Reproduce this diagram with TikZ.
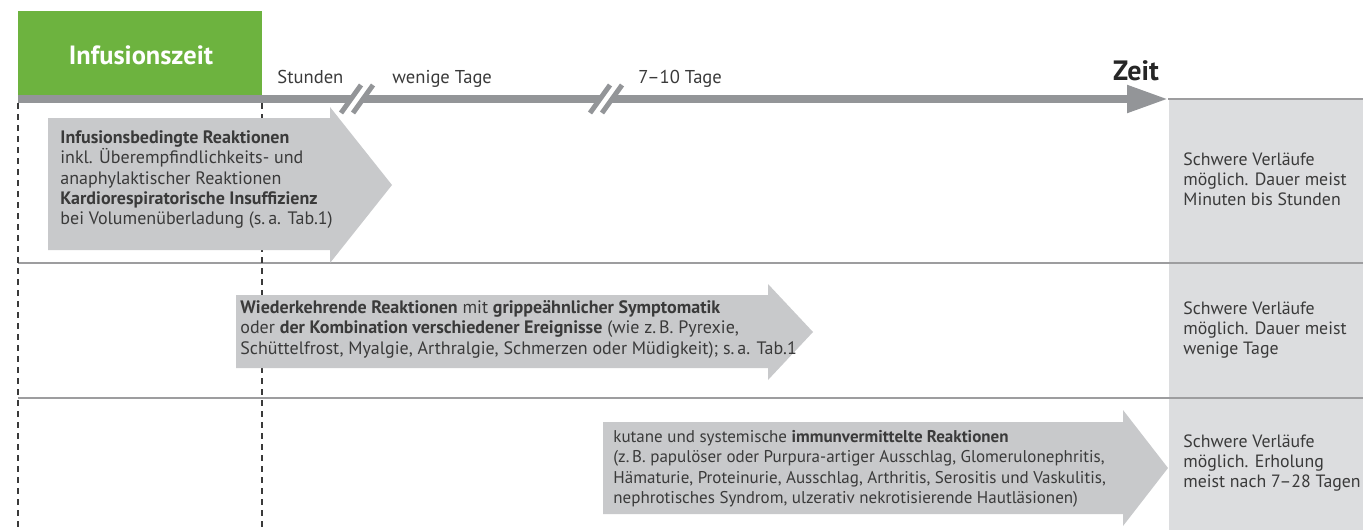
\documentclass[tikz,border=0pt]{standalone}
\usepackage{fontspec}
\setmainfont{PT Sans}
\usetikzlibrary{arrows.meta,positioning}
\definecolor{gruen}{HTML}{6DB33F}
\definecolor{balken}{HTML}{939598}
\definecolor{pfeil}{HTML}{C8C9CB}
\definecolor{spalte}{HTML}{DCDDDF}
\definecolor{linie}{HTML}{9D9D9F}
\definecolor{schrift}{HTML}{3A3A3A}
\tikzset{
  txt/.style={anchor=north west, align=left, inner sep=0pt, text=schrift,
    font=\fontsize{8.5}{10.2}\selectfont},
  gross/.style={font=\fontsize{9}{10.2}\selectfont},
  marke/.style={anchor=base west, inner sep=0pt, text=schrift,
    font=\fontsize{9.3}{11}\selectfont},
  trenner/.style={draw=linie, line width=1pt},
  gestrichelt/.style={draw=schrift, line width=0.7pt, dash pattern=on 3pt off 2.5pt},
  bruch/.style={draw=balken, line width=2.5pt}
}

\begin{document}
\begin{tikzpicture}[x=0.5pt,y=-0.5pt]
    \useasboundingbox (0,0) rectangle (1363,530);

    \fill[spalte] (1169,99) rectangle (1363,530);
    \fill[gruen] (18,11) rectangle (262,96);
    \node[text=white, font=\fontsize{13.2}{15}\selectfont\bfseries] (infusion) at (141,55) {Infusionszeit};

    \coordinate (start) at (18,99);
    \coordinate (tip) at (1168,99);
    \draw[balken, line width=4pt, -{Triangle[length=20.5pt,width=13pt]}] (start) -- (tip);
    \draw[trenner] (tip) -- (1363,99);
    \node[font=\fontsize{14}{16}\selectfont\bfseries, text=black!85] (zeit) at (1136,71) {Zeit};

    \node[marke] (stunden) at (277,83) {Stunden};
    \node[marke] (tage) at (392,83) {wenige Tage};
    \node[marke] (zehn) at (638,83) {7--10 Tage};

    \foreach \cx in {357,606} {
      \draw[white, line width=3pt] (\cx-10,113) -- (\cx+10,85);
      \draw[bruch] (\cx-16,113) -- (\cx+4,85);
      \draw[bruch] (\cx-4,113) -- (\cx+16,85);
    }

    \draw[trenner] (18,263) -- (1363,263);
    \draw[trenner] (18,398) -- (1363,398);
    \draw[gestrichelt] (18,103) -- (18,530);
    \draw[gestrichelt] (262,103) -- (262,530);

    \fill[pfeil] (48,118) -- (330,118) -- (330,107) -- (392,185) -- (330,263) -- (330,250) -- (48,250) -- cycle;
    \fill[pfeil] (236,295) -- (768,295) -- (768,284) -- (813,332) -- (768,380) -- (768,368) -- (236,368) -- cycle;
    \fill[pfeil] (603,422) -- (1123,422) -- (1123,410) -- (1168,468) -- (1123,526) -- (1123,514) -- (603,514) -- cycle;

    \node[txt, gross] (infreak) at (60,130) {\textbf{Infusionsbedingte Reaktionen}\\
      inkl. Überempfindlichkeits- und\\
      anaphylaktischer Reaktionen\\
      \textbf{Kardiorespiratorische Insuffizienz}\\
      bei Volumenüberladung (s.\,a. Tab.1)};
    \node[txt, gross] (wiederkehr) at (240,300) {\textbf{Wiederkehrende Reaktionen} mit \textbf{grippeähnlicher Symptomatik}\\
      oder \textbf{der Kombination verschiedener Ereignisse} (wie z.\,B. Pyrexie,\\
      Schüttelfrost, Myalgie, Arthralgie, Schmerzen oder Müdigkeit); s.\,a. Tab.1};
    \node[txt] (immun) at (613,430) {kutane und systemische \textbf{immunvermittelte Reaktionen}\\
      (z.\,B. papulöser oder Purpura-artiger Ausschlag, Glomerulonephritis,\\
      Hämaturie, Proteinurie, Ausschlag, Arthritis, Serositis und Vaskulitis,\\
      nephrotisches Syndrom, ulzerativ nekrotisierende Hautläsionen)};

    \node[txt, font=\fontsize{8.9}{10.2}\selectfont] (verlauf1) at (1183,152) {Schwere Verläufe\\möglich. Dauer meist\\Minuten bis Stunden};
    \node[txt, font=\fontsize{8.9}{10.2}\selectfont] (verlauf2) at (1183,301) {Schwere Verläufe\\möglich. Dauer meist\\wenige Tage};
    \node[txt, font=\fontsize{8.9}{10.2}\selectfont] (verlauf3) at (1183,434) {Schwere Verläufe\\möglich. Erholung\\meist nach 7--28 Tagen};
\end{tikzpicture}
\end{document}
